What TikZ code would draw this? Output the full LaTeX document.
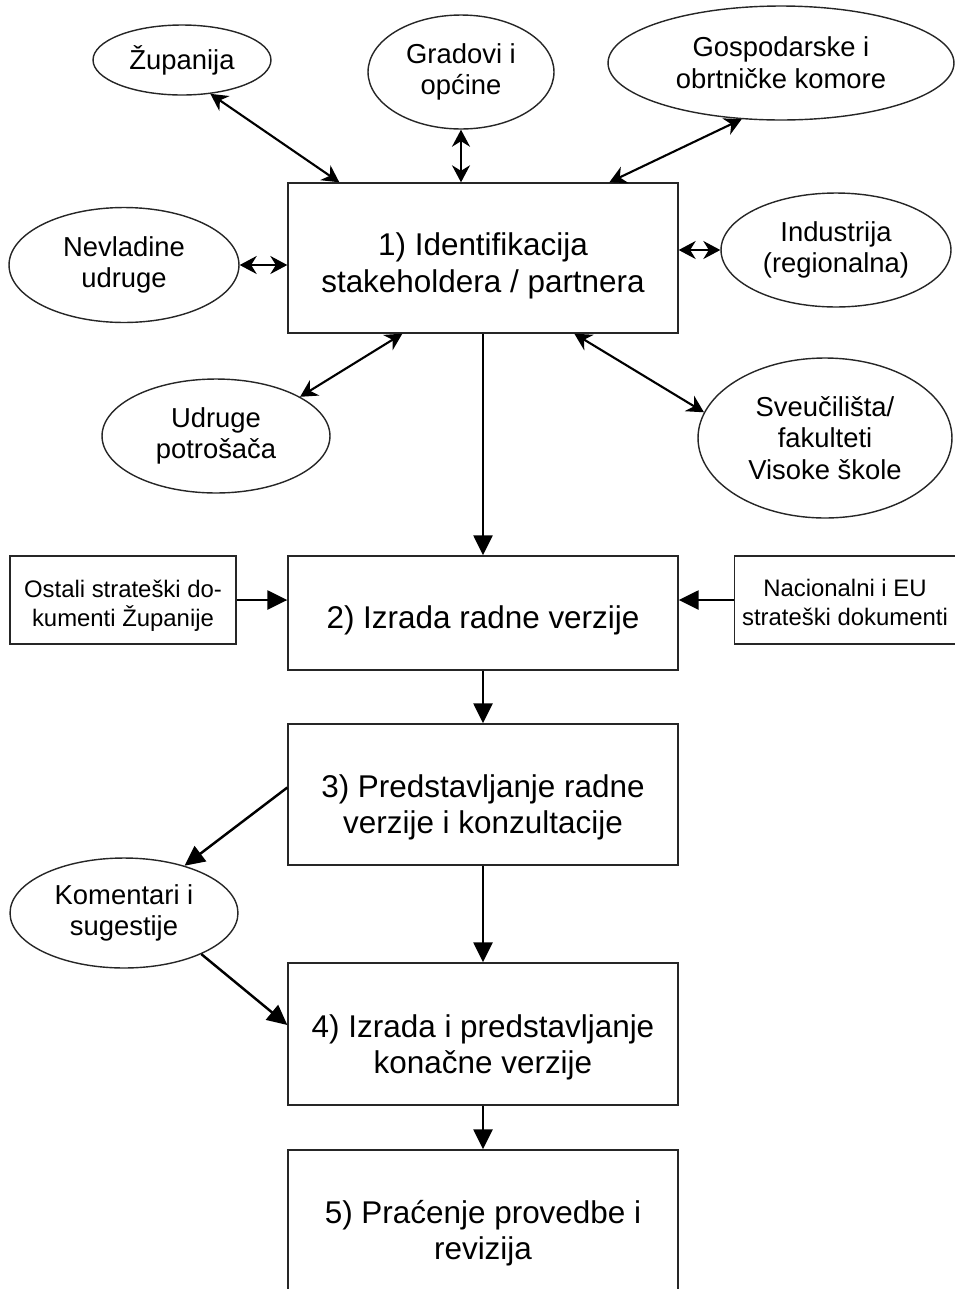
\documentclass[tikz,border=0pt]{standalone}
\usepackage{fontspec}
\setmainfont{Liberation Sans}
\usetikzlibrary{shapes.geometric,arrows.meta,calc}
\newcommand{\lowtxt}[2]{\raisebox{#1}[\height][\depth]{\begin{tabular}{@{}c@{}}#2\end{tabular}}}
\begin{document}
\begin{tikzpicture}[x=0.02cm,y=-0.02cm,
  box/.style={draw=black!85,line width=0.8pt,rectangle,minimum width=7.8cm,inner sep=0pt,font=\fontsize{17.9}{20.5}\selectfont},
  ell/.style={draw=black!85,line width=0.8pt,ellipse,inner sep=0pt,align=center,font=\fontsize{15.6}{18.1}\selectfont},
  sbox/.style={draw=black!85,line width=0.8pt,rectangle,inner sep=0pt,minimum height=1.76cm,font=\fontsize{13.6}{16.4}\selectfont},
  flow/.style={line width=1.4pt,-{Triangle[length=0.4cm,width=0.38cm]}},
  both/.style={line width=1.2pt,{Stealth[length=0.34cm,width=0.36cm,inset=0.11cm]}-{Stealth[length=0.34cm,width=0.36cm,inset=0.11cm]}}
]
\useasboundingbox (0,0) rectangle (955,1289);

% main boxes
\node[box,minimum height=3cm] (b1) at (483,258) {\lowtxt{-5pt}{1) Identifikacija\\stakeholdera / partnera}};
\node[box,minimum height=2.28cm] (b2) at (483,613) {\lowtxt{-5pt}{2) Izrada radne verzije}};
\node[box,minimum height=2.82cm] (b3) at (483,794.5) {\lowtxt{-8pt}{3) Predstavljanje radne\\verzije i konzultacije}};
\node[box,minimum height=2.84cm] (b4) at (483,1034) {\lowtxt{-8.3pt}{4) Izrada i predstavljanje\\konačne verzije}};
\node[box,minimum height=3cm] (b5) at (483,1225) {\lowtxt{-5.5pt}{5) Praćenje provedbe i\\revizija}};

% ellipses
\node[ell,minimum width=3.56cm,minimum height=1.4cm] (zup) at (182,60) {Županija};
\node[ell,minimum width=3.72cm,minimum height=2.28cm] (grad) at (461,72) {Gradovi i\\općine};
\node[ell,minimum width=6.92cm,minimum height=2.28cm] (gosp) at (781,63) {Gospodarske i\\obrtničke komore};
\node[ell,minimum width=4.6cm,minimum height=2.3cm] (nev) at (124,265) {Nevladine\\udruge};
\node[ell,minimum width=4.6cm,minimum height=2.28cm] (ind) at (836,250) {Industrija\\(regionalna)};
\node[ell,minimum width=4.56cm,minimum height=2.28cm] (udr) at (216,436) {Udruge\\potrošača};
\node[ell,minimum width=5.08cm,minimum height=3.2cm] (sve) at (825,438) {Sveučilišta/\\fakulteti\\Visoke škole};
\node[ell,minimum width=4.56cm,minimum height=2.2cm] (kom) at (124,913) {Komentari i\\sugestije};

% side boxes
\node[sbox,minimum width=4.52cm] (ost) at (123,600) {\lowtxt{-3.5pt}{Ostali strateški do-\\kumenti Županije}};
\node[sbox,minimum width=4.42cm] (nac) at (845,600) {\lowtxt{-3.2pt}{Nacionalni i EU\\strateški dokumenti}};

% stakeholder arrows
\draw[both] (zup.-50) -- ($(b1.north west)+(52,0)$);
\draw[both] (grad.south) -- (grad.south |- b1.north);
\draw[both] (gosp.-125) -- ($(b1.north west)+(322,0)$);
\draw[both] (nev.east) -- (nev.east -| b1.west);
\draw[both] (ind.west) -- (ind.west -| b1.east);
\draw[both] (udr.25) -- ($(b1.south west)+(115,0)$);
\draw[both] (sve.168) -- ($(b1.south west)+(287,0)$);

% flow arrows
\draw[flow] (b1.south) -- (b2.north);
\draw[flow] (b2.south) -- (b3.north);
\draw[flow] (b3.south) -- (b4.north);
\draw[flow] (b4.south) -- (b5.north);
\draw[flow] (ost.east) -- (ost.east -| b2.west);
\draw[flow] (nac.west) -- (nac.west -| b2.east);
\draw[flow] ($(b3.west)+(0,-7)$) -- (kom.38);
\draw[flow] (kom.-28) -- ($(b4.west)+(0,-9)$);
\end{tikzpicture}
\end{document}
